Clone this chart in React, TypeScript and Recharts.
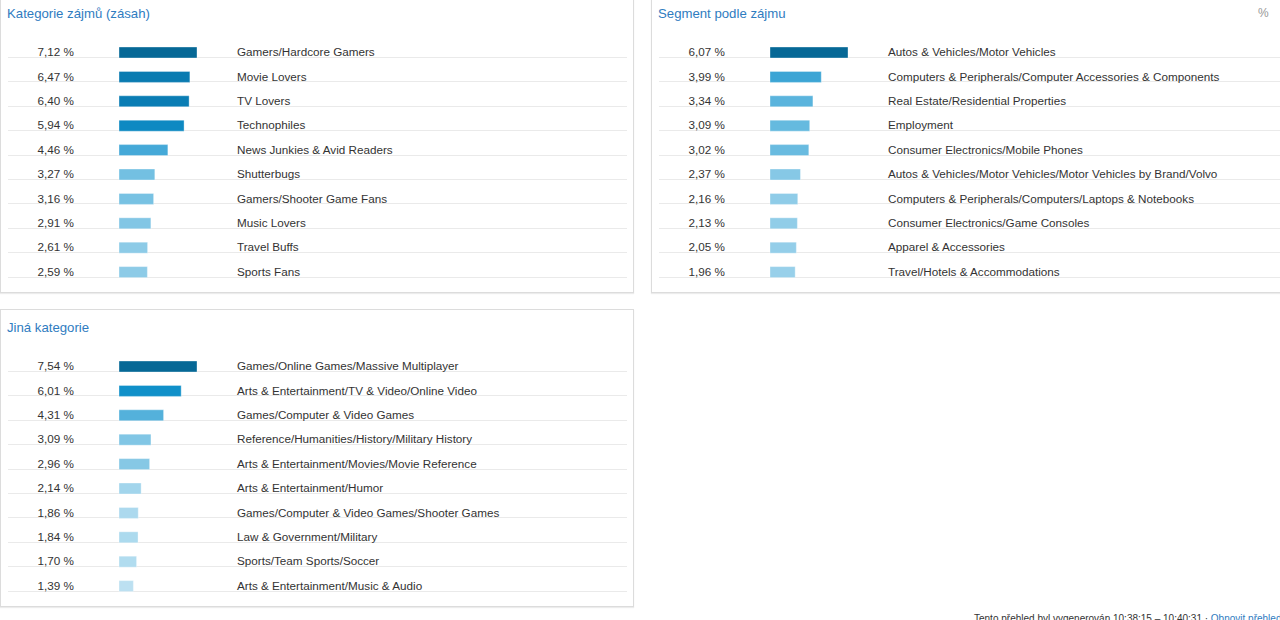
import React from 'react';
import { BarChart, Bar, XAxis, YAxis, Cell, LabelList } from 'recharts';

// ---- Data ----
const interestCategoryNames = [
  'Gamers/Hardcore Gamers',
  'Movie Lovers',
  'TV Lovers',
  'Technophiles',
  'News Junkies & Avid Readers',
  'Shutterbugs',
  'Gamers/Shooter Game Fans',
  'Music Lovers',
  'Travel Buffs',
  'Sports Fans',
];
const interestCategoryValues = [7.12, 6.47, 6.4, 5.94, 4.46, 3.27, 3.16, 2.91, 2.61, 2.59];

const segmentNames = [
  'Autos & Vehicles/Motor Vehicles',
  'Computers & Peripherals/Computer Accessories & Components',
  'Real Estate/Residential Properties',
  'Employment',
  'Consumer Electronics/Mobile Phones',
  'Autos & Vehicles/Motor Vehicles/Motor Vehicles by Brand/Volvo',
  'Computers & Peripherals/Computers/Laptops & Notebooks',
  'Consumer Electronics/Game Consoles',
  'Apparel & Accessories',
  'Travel/Hotels & Accommodations',
];
const segmentValues = [6.07, 3.99, 3.34, 3.09, 3.02, 2.37, 2.16, 2.13, 2.05, 1.96];

const otherCategoryNames = [
  'Games/Online Games/Massive Multiplayer',
  'Arts & Entertainment/TV & Video/Online Video',
  'Games/Computer & Video Games',
  'Reference/Humanities/History/Military History',
  'Arts & Entertainment/Movies/Movie Reference',
  'Arts & Entertainment/Humor',
  'Games/Computer & Video Games/Shooter Games',
  'Law & Government/Military',
  'Sports/Team Sports/Soccer',
  'Arts & Entertainment/Music & Audio',
];
const otherCategoryValues = [7.54, 6.01, 4.31, 3.09, 2.96, 2.14, 1.86, 1.84, 1.7, 1.39];

const panelTitles = ['Kategorie zájmů (zásah)', 'Segment podle zájmu', 'Jiná kategorie'];
const footerText = 'Tento přehled byl vygenerován 10:38:15 – 10:40:31 · ';
const footerLink = 'Obnovit přehled';

// ---- Styling helpers ----
const FONT = '"Liberation Sans", Arial, sans-serif';
const TITLE_COLOR = '#2f7cbf';
const TEXT_COLOR = '#333333';
const LABEL_SIZE = 11.7;

const COLOR_STOPS: [number, string][] = [
  [0.0, '#c8e6f4'],
  [0.18, '#bde1f1'],
  [0.3, '#9ed3eb'],
  [0.4, '#84c7e5'],
  [0.5, '#68bbe0'],
  [0.65, '#3ea6d6'],
  [0.8, '#0f90c9'],
  [0.9, '#0a7db4'],
  [1.0, '#066896'],
];

const hexToRgb = (h: string) => [
  parseInt(h.slice(1, 3), 16),
  parseInt(h.slice(3, 5), 16),
  parseInt(h.slice(5, 7), 16),
];

const colorFor = (ratio: number) => {
  for (let i = 1; i < COLOR_STOPS.length; i++) {
    const [r1, c1] = COLOR_STOPS[i - 1];
    const [r2, c2] = COLOR_STOPS[i];
    if (ratio <= r2) {
      const t = (ratio - r1) / (r2 - r1);
      const a = hexToRgb(c1);
      const b = hexToRgb(c2);
      const m = a.map((v, k) => Math.round(v + (b[k] - v) * t));
      return `rgb(${m[0]},${m[1]},${m[2]})`;
    }
  }
  return COLOR_STOPS[COLOR_STOPS.length - 1][1];
};

const formatPct = (v: number) => `${v.toFixed(2).replace('.', ',')} %`;

const BAR_MAX_WIDTH = 78;
const BAR_LEFT = 119;
const CHART_HEIGHT = 244;

type PanelChartProps = {
  names: string[];
  values: number[];
  left: number;
  top: number;
  width: number;
  lineEnd: number;
};

const PanelChart = ({ names, values, left, top, width, lineEnd }: PanelChartProps) => {
  const data = names.map((name, i) => ({ name, value: values[i] }));
  const max = Math.max(...values);

  const RowLine = (props: any) => {
    const { y, height, index } = props;
    const ly = Math.round(y + height - 1) + 0.5;
    return (
      <line
        key={`row-${index}`}
        x1={8}
        x2={lineEnd}
        y1={ly}
        y2={ly}
        stroke="#eaeaea"
        strokeWidth={1}
      />
    );
  };

  const PctLabel = (props: any) => {
    const { y, height, value, index } = props;
    return (
      <text
        key={`pct-${index}`}
        x={74}
        y={y + height / 2 - 0.8}
        textAnchor="end"
        dominantBaseline="central"
        fontSize={LABEL_SIZE}
        fontFamily={FONT}
        fill={TEXT_COLOR}
      >
        {formatPct(value)}
      </text>
    );
  };

  const NameLabel = (props: any) => {
    const { y, height, value, index } = props;
    return (
      <text
        key={`name-${index}`}
        x={237}
        y={y + height / 2 - 0.8}
        textAnchor="start"
        dominantBaseline="central"
        fontSize={LABEL_SIZE}
        fontFamily={FONT}
        fill={TEXT_COLOR}
      >
        {value}
      </text>
    );
  };

  return (
    <div style={{ position: 'absolute', left, top, width, height: CHART_HEIGHT }}>
      <BarChart
        width={width}
        height={CHART_HEIGHT}
        data={data}
        layout="vertical"
        margin={{ top: 0, bottom: 0, left: BAR_LEFT, right: width - BAR_LEFT - BAR_MAX_WIDTH }}
      >
        <XAxis type="number" domain={[0, max]} hide />
        <YAxis type="category" dataKey="name" hide />
        <Bar
          dataKey="value"
          barSize={11}
          isAnimationActive={false}
          background={RowLine}
          stroke="rgba(255,255,255,0.35)"
          strokeWidth={1}
        >
          {data.map((d, i) => (
            <Cell key={`c-${i}`} fill={colorFor(d.value / max)} />
          ))}
          <LabelList dataKey="value" content={PctLabel} />
          <LabelList dataKey="name" content={NameLabel} />
        </Bar>
      </BarChart>
    </div>
  );
};

const panelBox = (left: number, top: number, width: number, height: number): React.CSSProperties => ({
  position: 'absolute',
  left,
  top,
  width,
  height,
  boxSizing: 'border-box',
  border: '1px solid #dcdcdc',
  boxShadow: '0 1px 1px #ececec',
  background: '#fff',
});

const titleStyle = (left: number, top: number): React.CSSProperties => ({
  position: 'absolute',
  left,
  top,
  fontSize: 13.2,
  fontFamily: FONT,
  color: TITLE_COLOR,
  lineHeight: '15px',
  whiteSpace: 'nowrap',
});

export default function App() {
  return (
    <div
      style={{
        position: 'absolute',
        left: 0,
        top: 0,
        width: 1280,
        height: 620,
        overflow: 'hidden',
        background: '#fff',
        fontFamily: FONT,
      }}
    >
      <div style={panelBox(0, -6, 634, 299)} />
      <div style={panelBox(651, -6, 640, 299)} />
      <div style={panelBox(0, 309, 634, 298)} />

      <div style={titleStyle(7, 6)}>{panelTitles[0]}</div>
      <div style={titleStyle(658, 6)}>{panelTitles[1]}</div>
      <div style={titleStyle(7, 320)}>{panelTitles[2]}</div>
      <div
        style={{
          position: 'absolute',
          left: 1258,
          top: 6,
          fontSize: 12,
          color: '#999',
          fontFamily: FONT,
          lineHeight: '14px',
        }}
      >
        %
      </div>

      <PanelChart
        names={interestCategoryNames}
        values={interestCategoryValues}
        left={0}
        top={39.5}
        width={633}
        lineEnd={627}
      />
      <PanelChart
        names={segmentNames}
        values={segmentValues}
        left={651}
        top={39.5}
        width={629}
        lineEnd={629}
      />
      <PanelChart
        names={otherCategoryNames}
        values={otherCategoryValues}
        left={0}
        top={353.5}
        width={633}
        lineEnd={627}
      />

      <div
        style={{
          position: 'absolute',
          left: 974,
          top: 613,
          fontSize: 10,
          fontFamily: FONT,
          color: TEXT_COLOR,
          whiteSpace: 'nowrap',
          lineHeight: '12px',
        }}
      >
        {footerText}
        <span style={{ color: TITLE_COLOR }}>{footerLink}</span>
      </div>
    </div>
  );
}
